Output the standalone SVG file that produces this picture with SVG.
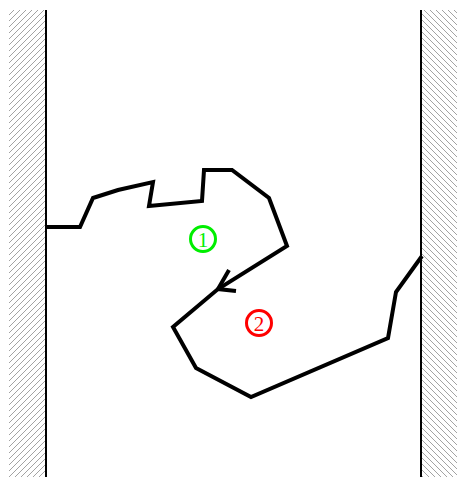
<svg xmlns="http://www.w3.org/2000/svg" width="457" height="477" viewBox="0 0 457 477">
<style>
.wall{stroke:#000;stroke-width:2;fill:none}
.path{stroke:#000;stroke-width:4;fill:none;stroke-linejoin:miter}
.hl{stroke:#999;stroke-width:0.9}
.lbl{font-family:"Liberation Serif",serif;font-size:21px;text-anchor:middle}
</style>
<defs>
<pattern id="hatchL" patternUnits="userSpaceOnUse" width="6" height="6">
<path class="hl" d="M-1,1 L1,-1 M0,6 L6,0 M5,7 L7,5"/>
</pattern>
<pattern id="hatchR" patternUnits="userSpaceOnUse" width="6" height="6">
<path class="hl" d="M-1,5 L1,7 M0,0 L6,6 M5,-1 L7,1"/>
</pattern>
</defs>
<g id="wall-left">
<rect x="9" y="10" width="37" height="467" fill="url(#hatchL)"/>
<line class="wall" x1="46" y1="10" x2="46" y2="477"/>
</g>
<g id="wall-right">
<rect x="421" y="10" width="36" height="467" fill="url(#hatchR)"/>
<line class="wall" x1="421" y1="10" x2="421" y2="477"/>
</g>
<g id="connectors">
<polyline class="path" points="46,227 80,227 93,198 118,190 153,182 149,206 202,201 204,170 232,170 269,198 287,246 218,289 173,327 196,368 251,397 388,338 396,292 422,256"/>
<polyline class="path" points="229,270 218,289 236,291"/>
</g>
<g id="label-1">
<circle cx="203" cy="239" r="12.5" fill="none" stroke="#00ee00" stroke-width="3"/>
<text class="lbl" x="203" y="246.5" fill="#00ee00">1</text>
</g>
<g id="label-2">
<circle cx="259" cy="323" r="12.5" fill="none" stroke="#ff0000" stroke-width="3"/>
<text class="lbl" x="259" y="330.5" fill="#ff0000">2</text>
</g>
</svg>
